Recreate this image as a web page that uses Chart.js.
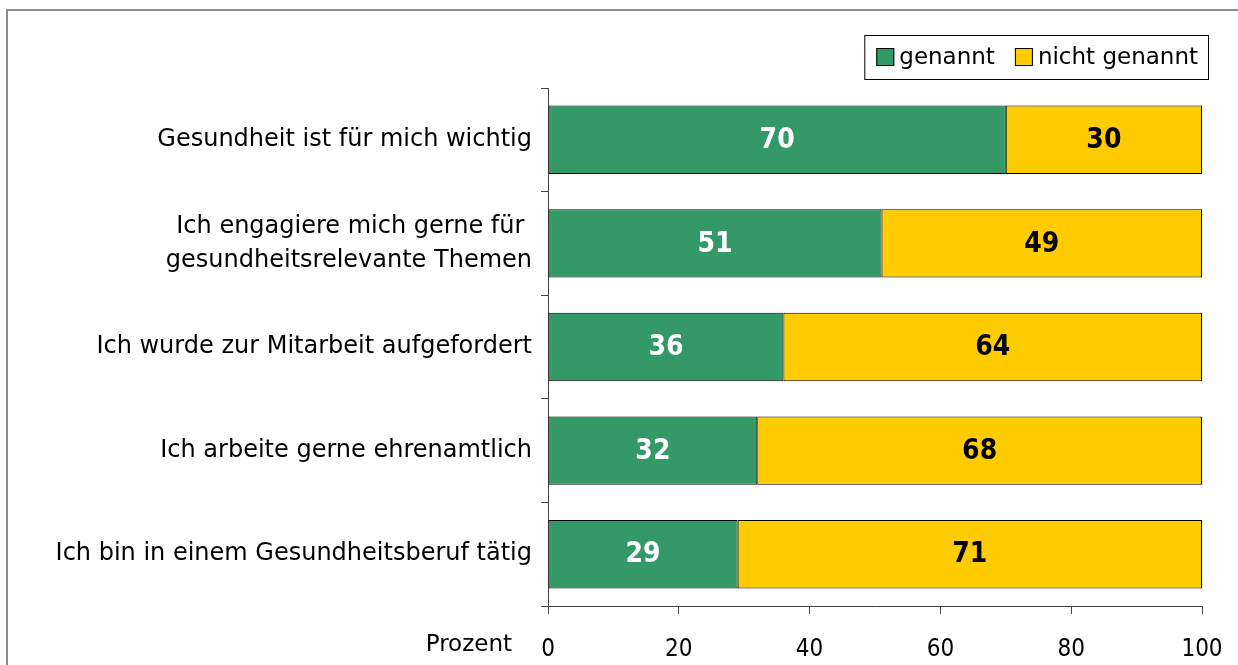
<!DOCTYPE html>
<html>
<head>
<meta charset="utf-8">
<script src="https://cdn.jsdelivr.net/npm/chart.js@4.4.1/dist/chart.umd.min.js"></script>
<style>
  html, body { margin: 0; padding: 0; background: #fff; }
  #wrap { width: 1238px; height: 665px; }
</style>
</head>
<body>
<div id="wrap"><canvas id="chart" width="1238" height="665"></canvas></div>
<script>
// =====================
// DATA
// =====================
const categories = [
  "Gesundheit ist für mich wichtig",
  ["Ich engagiere mich gerne für ", "gesundheitsrelevante Themen"],
  "Ich wurde zur Mitarbeit aufgefordert",
  "Ich arbeite gerne ehrenamtlich",
  "Ich bin in einem Gesundheitsberuf tätig"
];
const genannt = [70, 51, 36, 32, 29];
const nichtGenannt = [30, 49, 64, 68, 71];
const seriesNames = ["genannt", "nicht genannt"];
const xTicks = [0, 20, 40, 60, 80, 100];
const axisTitle = "Prozent";

const FONT = "'DejaVu Sans', sans-serif";
const FONT_NUM = "'DejaVu Sans Condensed', 'DejaVu Sans', sans-serif";
const GREEN = "#339966";
const YELLOW = "#FFCC00";

// =====================
// PLUGIN: frame, legend, value labels, axis title
// =====================
const extras = {
  id: "extras",
  afterDraw(chart) {
    const ctx = chart.ctx;
    const area = chart.chartArea;
    const xs = chart.scales.x;
    ctx.save();

    // outer frame (only top/left visible)
    ctx.strokeStyle = "#8c8c8c";
    ctx.lineWidth = 2;
    ctx.beginPath();
    ctx.moveTo(7, 665);
    ctx.lineTo(7, 10);
    ctx.lineTo(1238, 10);
    ctx.stroke();

    // value labels inside the bars
    ctx.font = "bold 28px " + FONT_NUM;
    ctx.textAlign = "center";
    ctx.textBaseline = "middle";
    chart.data.datasets.forEach((ds, i) => {
      const meta = chart.getDatasetMeta(i);
      meta.data.forEach((bar, j) => {
        ctx.fillStyle = i === 0 ? "#ffffff" : "#000000";
        ctx.fillText(String(ds.data[j]), (bar.x + bar.base) / 2, bar.y + 1);
      });
    });

    // axis title left of the tick labels
    ctx.font = "23px " + FONT;
    ctx.fillStyle = "#000";
    ctx.textAlign = "right";
    ctx.fillText(axisTitle, area.left - 36, xs.top + 39);

    // legend
    ctx.font = "23px " + FONT;
    const box = 18, gap = 5, itemGap = 20, padL = 12, padR = 10;
    const widths = chart.data.datasets.map(d => ctx.measureText(d.label).width);
    let total = padL + padR;
    widths.forEach((w, i) => { total += box + gap + w + (i > 0 ? itemGap : 0); });
    const right = area.right + 6;
    const left = right - total;
    const top = 35, h = 44;
    ctx.strokeStyle = "#000";
    ctx.lineWidth = 1;
    ctx.strokeRect(left + 0.5, top + 0.5, total, h);
    let x = left + padL;
    const cy = top + h / 2;
    ctx.textAlign = "left";
    chart.data.datasets.forEach((d, i) => {
      ctx.fillStyle = d.backgroundColor;
      ctx.fillRect(x, cy - box / 2, box, box);
      ctx.strokeRect(x + 0.5, cy - box / 2 + 0.5, box - 1, box - 1);
      ctx.fillStyle = "#000";
      ctx.fillText(d.label, x + box + gap, cy + 1);
      x += box + gap + widths[i] + itemGap;
    });

    ctx.restore();
  }
};

// =====================
// CHART
// =====================
new Chart(document.getElementById("chart"), {
  type: "bar",
  data: {
    labels: categories,
    datasets: [
      {
        label: seriesNames[0],
        data: genannt,
        backgroundColor: GREEN,
        borderColor: "#000",
        borderWidth: 1,
        borderSkipped: false
      },
      {
        label: seriesNames[1],
        data: nichtGenannt,
        backgroundColor: YELLOW,
        borderColor: "#000",
        borderWidth: 1,
        borderSkipped: false
      }
    ]
  },
  options: {
    indexAxis: "y",
    responsive: false,
    devicePixelRatio: 1,
    animation: false,
    layout: { padding: { left: 8, right: 36, top: 88, bottom: 0 } },
    datasets: { bar: { categoryPercentage: 1, barPercentage: 0.66 } },
    plugins: { legend: { display: false }, tooltip: { enabled: false } },
    scales: {
      x: {
        stacked: true,
        min: 0,
        max: 100,
        afterBuildTicks: s => { s.ticks = xTicks.map(v => ({ value: v })); },
        afterFit: s => { s.height = 59; s.paddingLeft = 0; s.paddingRight = 0; },
        grid: { drawOnChartArea: false, tickLength: 8, color: "#444" },
        border: { color: "#444", width: 1 },
        ticks: { color: "#000", padding: 21, font: { family: FONT_NUM, size: 24 } }
      },
      y: {
        stacked: true,
        afterFit: s => { s.width = 540; },
        grid: { drawOnChartArea: false, offset: true, tickLength: 7, color: "#444" },
        border: { color: "#444", width: 1 },
        ticks: { color: "#000", padding: 9, font: { family: FONT, size: 24, lineHeight: 1.42 } }
      }
    }
  },
  plugins: [extras]
});
</script>
</body>
</html>
